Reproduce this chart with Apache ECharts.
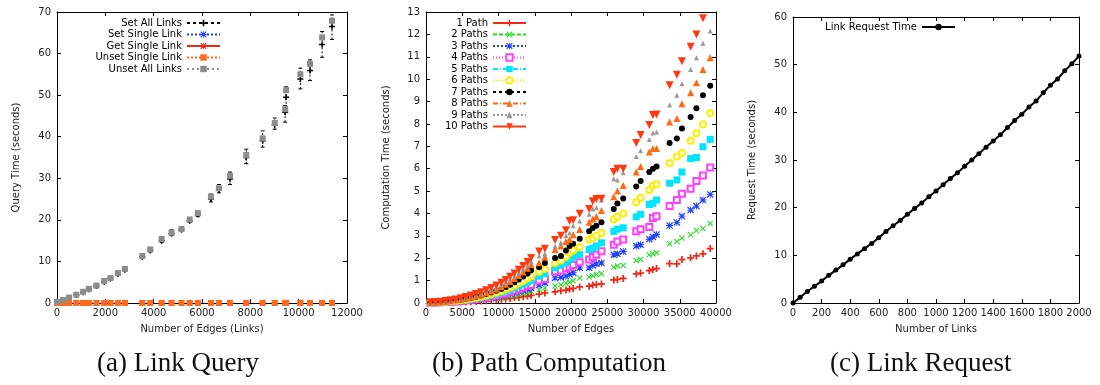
<!DOCTYPE html>
<html><head><meta charset="utf-8">
<script src="https://cdn.jsdelivr.net/npm/echarts@6/dist/echarts.min.js"></script>
<style>html,body{margin:0;padding:0;background:#fff}#c{width:1100px;height:385px}</style>
</head><body><div id="c"></div>
<script>
// ---------- Panel (a) Link Query ----------
const edgesA = [0, 250, 500, 800, 1080, 1320, 1630, 1950, 2210, 2520, 2810, 3530, 3860, 4330, 4740, 5150, 5490, 5830, 6370, 6700, 7160, 7830, 8510, 9010, 9440, 9480, 10070, 10470, 10970, 11380];
const setAllLinks = [0.2, 0.6, 1.2, 1.9, 2.6, 3.3, 4.1, 5.1, 5.9, 7.0, 8.0, 11.1, 12.6, 15.0, 16.7, 17.6, 19.8, 21.3, 25.0, 27.2, 29.8, 35.0, 39.0, 42.8, 45.9, 49.5, 53.9, 55.9, 62.2, 66.5];
const setAllLow = [0.1, 0.4, 1.0, 1.7, 2.4, 3.1, 3.8, 4.8, 5.6, 6.7, 7.7, 10.8, 12.3, 14.6, 16.2, 17.2, 19.4, 20.8, 24.3, 26.5, 28.5, 33.5, 37.5, 41.8, 43.5, 46.0, 51.5, 53.5, 59.1, 63.4];
const setAllHigh = [0.4, 0.9, 1.5, 2.2, 2.9, 3.6, 4.5, 5.5, 6.3, 7.5, 8.5, 11.6, 13.1, 15.8, 17.6, 18.2, 20.5, 22.1, 26.2, 28.5, 31.5, 37.0, 41.4, 44.5, 47.5, 52.0, 56.5, 58.5, 65.3, 69.3];
const setSingleLink = [0.02, 0.02, 0.02, 0.02, 0.02, 0.02, 0.02, 0.02, 0.02, 0.02, 0.02, 0.02, 0.02, 0.02, 0.02, 0.02, 0.02, 0.02, 0.02, 0.02, 0.02, 0.02, 0.02, 0.02, 0.02, 0.02, 0.02, 0.02, 0.02, 0.02];
const getSingleLink = [0.01, 0.01, 0.01, 0.01, 0.01, 0.01, 0.01, 0.01, 0.01, 0.01, 0.01, 0.01, 0.01, 0.01, 0.01, 0.01, 0.01, 0.01, 0.01, 0.01, 0.01, 0.01, 0.01, 0.01, 0.01, 0.01, 0.01, 0.01, 0.01, 0.01];
const unsetSingleLink = [0.02, 0.02, 0.02, 0.02, 0.02, 0.02, 0.02, 0.02, 0.02, 0.02, 0.02, 0.02, 0.02, 0.02, 0.02, 0.02, 0.02, 0.02, 0.02, 0.02, 0.02, 0.02, 0.02, 0.02, 0.02, 0.02, 0.02, 0.02, 0.02, 0.02];
const unsetAllLinks = [0.3, 0.7, 1.3, 2.0, 2.7, 3.4, 4.2, 5.3, 6.0, 7.2, 8.2, 11.3, 12.9, 15.4, 16.9, 17.8, 20.1, 21.6, 25.6, 27.6, 30.6, 35.6, 39.6, 43.3, 46.6, 51.2, 55.0, 57.5, 63.9, 67.9];

// ---------- Panel (b) Path Computation ----------
const edgesB = [600, 1300, 2000, 2700, 3400, 4100, 4800, 5500, 6200, 6900, 7600, 8300, 9000, 9700, 10400, 11000, 11600, 12200, 12800, 13400, 14000, 14500,
  15600, 16400, 17800, 18600, 19300, 19800, 20300, 21200, 22500, 23000, 23500, 24200, 25900, 26400, 27200, 29000, 29600, 30800, 31300, 31800, 33600, 34600, 35300, 36500, 37300, 38200, 39200];
const path1 = [0.01,0.01,0.02,0.02,0.03,0.04,0.05,0.05,0.06,0.07,0.09,0.10,0.12,0.14,0.16,0.18,0.20,0.23,0.25,0.28,0.31,0.34,
  0.4,0.45,0.5,0.55,0.58,0.63,0.65,0.72,0.75,0.8,0.83,0.85,1.03,1.05,1.1,1.3,1.34,1.45,1.5,1.54,1.76,1.75,1.94,2.02,2.1,2.2,2.43];
const path2 = [0.01,0.01,0.02,0.03,0.04,0.05,0.06,0.07,0.09,0.11,0.13,0.15,0.18,0.21,0.24,0.27,0.30,0.34,0.38,0.42,0.47,0.52,
  0.6,0.67,0.76,0.82,0.88,0.93,1.0,1.12,1.16,1.22,1.27,1.31,1.6,1.65,1.67,1.9,1.94,2.15,2.2,2.24,2.65,2.75,2.9,3.05,3.24,3.33,3.55];
const path3 = [0.01,0.02,0.02,0.03,0.05,0.06,0.08,0.10,0.12,0.14,0.17,0.20,0.24,0.28,0.32,0.36,0.41,0.46,0.51,0.56,0.62,0.67,
  0.8,0.9,1.12,1.15,1.2,1.28,1.35,1.57,1.57,1.68,1.75,1.79,2.15,2.2,2.3,2.55,2.6,2.85,2.95,3.06,3.46,3.6,3.88,4.15,4.33,4.6,4.85];
const path4 = [0.01,0.02,0.03,0.04,0.06,0.07,0.09,0.12,0.14,0.17,0.21,0.25,0.29,0.34,0.39,0.44,0.50,0.56,0.63,0.69,0.76,0.82,
  1.0,1.07,1.42,1.45,1.55,1.61,1.7,1.82,1.94,2.05,2.15,2.31,2.6,2.75,2.84,3.2,3.3,3.4,3.8,3.88,4.33,4.6,4.88,5.1,5.45,5.7,6.05];
const path5 = [0.01,0.02,0.03,0.05,0.07,0.09,0.11,0.14,0.17,0.21,0.25,0.30,0.35,0.41,0.47,0.53,0.60,0.68,0.76,0.84,0.93,1.01,
  1.2,1.31,1.57,1.7,1.8,1.94,2.05,2.16,2.39,2.45,2.55,2.69,3.2,3.3,3.36,3.85,3.96,4.4,4.45,4.6,5.35,5.5,5.85,6.45,6.5,6.98,7.31];
const path6 = [0.02,0.03,0.04,0.06,0.08,0.10,0.13,0.16,0.20,0.24,0.29,0.34,0.40,0.47,0.54,0.61,0.69,0.78,0.88,0.98,1.09,1.19,
  1.4,1.52,1.79,1.9,2.05,2.24,2.35,2.5,2.84,2.9,3.0,3.13,3.73,3.85,4.0,4.5,4.7,5.05,5.25,5.3,6.25,6.55,6.7,7.25,7.58,7.98,8.48];
const path7 = [0.02,0.03,0.05,0.07,0.09,0.12,0.15,0.19,0.23,0.28,0.34,0.40,0.47,0.55,0.63,0.72,0.82,0.93,1.05,1.18,1.32,1.46,
  1.6,1.79,2.01,2.1,2.35,2.55,2.65,2.87,3.21,3.35,3.45,3.61,4.2,4.45,4.67,5.2,5.45,5.85,6.0,6.1,7.15,7.35,7.8,8.31,8.7,9.28,9.7];
const path8 = [0.02,0.03,0.05,0.08,0.10,0.14,0.17,0.22,0.27,0.32,0.39,0.46,0.54,0.63,0.73,0.84,0.96,1.09,1.23,1.38,1.55,1.72,
  1.8,2.06,2.39,2.55,2.75,2.84,3.05,3.28,3.61,3.75,3.85,4.13,4.75,5.0,5.25,5.85,6.1,6.75,6.9,6.9,8.09,8.24,8.9,9.39,9.84,10.43,10.96];
const path9 = [0.02,0.04,0.06,0.08,0.11,0.15,0.19,0.24,0.30,0.36,0.43,0.51,0.60,0.70,0.81,0.93,1.06,1.20,1.35,1.51,1.69,1.87,
  2.1,2.2,2.54,2.7,3.0,3.13,3.45,3.66,3.96,4.2,4.25,4.6,5.55,5.5,5.82,6.55,6.8,7.3,7.6,7.64,8.84,9.28,9.8,10.43,10.96,11.6,12.15];
const path10 = [0.03,0.04,0.06,0.09,0.12,0.16,0.21,0.27,0.33,0.40,0.48,0.57,0.67,0.78,0.90,1.03,1.17,1.32,1.48,1.65,1.83,2.01,
  2.3,2.42,2.81,3.0,3.25,3.66,3.7,3.99,4.2,4.55,4.65,4.66,5.85,6.0,6.0,7.15,7.5,7.95,8.4,8.42,9.73,10.2,10.8,11.45,12.0,12.72,null];

// ---------- Panel (c) Link Request ----------
const linksC = [0,50,100,150,200,250,300,350,400,450,500,550,600,650,700,750,800,850,900,950,1000,1050,1100,1150,1200,1250,1300,1350,1400,1450,1500,1550,1600,1650,1700,1750,1800,1850,1900,1950,2000];
const requestTime = [0,1.2,2.4,3.5,4.6,5.8,6.9,8.0,9.2,10.3,11.4,12.5,13.7,15.0,16.2,17.3,18.6,19.8,21.0,22.3,23.5,24.8,26.1,27.3,28.7,30.0,31.3,32.7,34.0,35.3,36.8,38.3,39.6,41.1,42.4,44.1,45.7,47.0,48.7,50.2,51.8];

// ---------- labels ----------
const captions = ['(a) Link Query', '(b) Path Computation', '(c) Link Request'];
const xTitles = ['Number of Edges (Links)', 'Number of Edges', 'Number of Links'];
const yTitles = ['Query Time (seconds)', 'Computation Time (seconds)', 'Request Time (seconds)'];

const FONT = 'DejaVu Sans';
const SYM = {
  plus: 'path://M3,0H5V3H8V5H5V8H3V5H0V3H3Z',
  cross: 'path://M1,0L4,3L7,0L8,1L5,4L8,7L7,8L4,5L1,8L0,7L3,4L0,1Z',
  star: 'path://M3.5,0H4.5V3.5H8V4.5H4.5V8H3.5V4.5H0V3.5H3.5Z M1,0L4,3L7,0L8,1L5,4L8,7L7,8L4,5L1,8L0,7L3,4L0,1Z',
  invTri: 'path://M0,0H10L5,9Z'
};

const grids = [
  {left: 57, right: 753, top: 12, bottom: 82},
  {left: 426, right: 384, top: 12, bottom: 82},
  {left: 793, right: 21, top: 17, bottom: 82}
];
const xRanges = [[0, 12000, 2000], [0, 40000, 5000], [0, 2000, 200]];
const yRanges = [[0, 70, 10], [0, 13, 1], [0, 60, 10]];

const xAxes = [], yAxes = [];
for (let g = 0; g < 3; g++) {
  const common = {
    type: 'value', gridIndex: g, splitLine: {show: false},
    axisLine: {show: true, onZero: false, lineStyle: {color: '#000', width: 1}},
    axisTick: {show: true, inside: true, length: 4, lineStyle: {color: '#000'}}
  };
  xAxes.push(Object.assign({}, common, {
    position: 'bottom', min: xRanges[g][0], max: xRanges[g][1], interval: xRanges[g][2],
    name: xTitles[g], nameLocation: 'middle', nameGap: 21,
    nameTextStyle: {fontFamily: FONT, fontSize: 10, color: '#222'},
    axisLabel: {fontFamily: FONT, fontSize: 10, color: '#222', margin: 5, formatter: v => String(v)}
  }));
  xAxes.push(Object.assign({}, common, {
    position: 'top', min: xRanges[g][0], max: xRanges[g][1], interval: xRanges[g][2],
    axisLabel: {show: false}
  }));
  yAxes.push(Object.assign({}, common, {
    position: 'left', min: yRanges[g][0], max: yRanges[g][1], interval: yRanges[g][2],
    name: yTitles[g], nameLocation: 'middle', nameGap: g === 0 ? 36 : (g === 1 ? 35 : 36),
    nameTextStyle: {fontFamily: FONT, fontSize: 10, color: '#222'},
    axisLabel: {fontFamily: FONT, fontSize: 10, color: '#222', margin: 6, formatter: v => String(v)}
  }));
  yAxes.push(Object.assign({}, common, {
    position: 'right', min: yRanges[g][0], max: yRanges[g][1], interval: yRanges[g][2],
    axisLabel: {show: false}
  }));
}

function pts(xs, ys) { return xs.map((x, i) => [x, ys[i]]); }
function mk(name, g, xs, ys, color, symbol, size, dash, extra) {
  return Object.assign({
    name, type: 'line', xAxisIndex: 2 * g, yAxisIndex: 2 * g,
    data: pts(xs, ys), symbol, symbolSize: size, showSymbol: true,
    itemStyle: {color},
    lineStyle: {color, width: 1, type: dash, opacity: 0},
    emphasis: {disabled: true}, silent: true, connectNulls: false
  }, extra || {});
}

const errBars = {
  name: 'Set All Links error', type: 'custom', xAxisIndex: 0, yAxisIndex: 0, silent: true, z: 1,
  data: edgesA.map((x, i) => [x, setAllLow[i], setAllHigh[i]]),
  renderItem: function (params, api) {
    const lo = api.coord([api.value(0), api.value(1)]);
    const hi = api.coord([api.value(0), api.value(2)]);
    const st = {stroke: '#000', lineWidth: 1};
    return {type: 'group', children: [
      {type: 'line', shape: {x1: lo[0], y1: lo[1], x2: hi[0], y2: hi[1]}, style: Object.assign({lineDash: [2, 2]}, st)},
      {type: 'line', shape: {x1: lo[0] - 2, y1: lo[1], x2: lo[0] + 2, y2: lo[1]}, style: st},
      {type: 'line', shape: {x1: hi[0] - 2, y1: hi[1], x2: hi[0] + 2, y2: hi[1]}, style: st}
    ]};
  }
};

const series = [
  errBars,
  mk('Set All Links', 0, edgesA, setAllLinks, '#000000', SYM.plus, 6, [3, 3]),
  mk('Set Single Link', 0, edgesA, setSingleLink, '#1f3fff', SYM.star, 6, [2, 2]),
  mk('Get Single Link', 0, edgesA, getSingleLink, '#f02818', SYM.star, 6, 'solid'),
  mk('Unset Single Link', 0, edgesA, unsetSingleLink, '#ff6a1a', 'rect', 6, [2, 2]),
  mk('Unset All Links', 0, edgesA, unsetAllLinks, '#8c8c8c', 'rect', 6, [2, 3]),

  mk('1 Path', 1, edgesB, path1, '#f02818', SYM.plus, 7, 'solid'),
  mk('2 Paths', 1, edgesB, path2, '#22dd22', SYM.cross, 6, [4, 2]),
  mk('3 Paths', 1, edgesB, path3, '#1f3fff', SYM.star, 7, [2, 2]),
  mk('4 Paths', 1, edgesB, path4, '#ff40ff', 'emptyRect', 6, [1, 2]),
  mk('5 Paths', 1, edgesB, path5, '#00e5ff', 'rect', 7, [5, 2, 1, 2]),
  mk('6 Paths', 1, edgesB, path6, '#ffee00', 'emptyCircle', 6, [1, 2]),
  mk('7 Paths', 1, edgesB, path7, '#000000', 'circle', 6, [3, 3]),
  mk('8 Paths', 1, edgesB, path8, '#ff6a10', 'triangle', 7, [5, 2, 1, 2]),
  mk('9 Paths', 1, edgesB, path9, '#999999', 'triangle', 5, [2, 2]),
  mk('10 Paths', 1, edgesB, path10, '#ff3a10', SYM.invTri, 8, 'solid'),

  mk('Link Request Time', 2, linksC, requestTime, '#000000', 'circle', 5, 'solid',
     {lineStyle: {color: '#000', width: 2, type: 'solid', opacity: 1}})
];

function legendFor(names, right, top) {
  return {
    data: names, orient: 'vertical', align: 'right', right, top,
    itemWidth: 33, itemHeight: 8, itemGap: 1.5,
    textStyle: {fontFamily: FONT, fontSize: 10, lineHeight: 10, color: '#000'},
    lineStyle: {opacity: 1}, selectedMode: false, padding: 0
  };
}

const option = {
  animation: false,
  backgroundColor: '#fff',
  grid: grids,
  xAxis: xAxes,
  yAxis: yAxes,
  legend: [
    legendFor(['Set All Links', 'Set Single Link', 'Get Single Link', 'Unset Single Link', 'Unset All Links'], 879, 18),
    legendFor(['1 Path', '2 Paths', '3 Paths', '4 Paths', '5 Paths', '6 Paths', '7 Paths', '8 Paths', '9 Paths', '10 Paths'], 573, 18),
    legendFor(['Link Request Time'], 144, 22)
  ],
  graphic: [
    {type: 'text', left: 97, top: 350, style: {text: captions[0], font: '27px "Liberation Serif"', fill: '#111'}},
    {type: 'text', left: 432, top: 350, style: {text: captions[1], font: '27px "Liberation Serif"', fill: '#111'}},
    {type: 'text', left: 830, top: 350, style: {text: captions[2], font: '27px "Liberation Serif"', fill: '#111'}}
  ],
  series
};
const chart = echarts.init(document.getElementById('c'));
chart.setOption(option);
</script></body></html>
